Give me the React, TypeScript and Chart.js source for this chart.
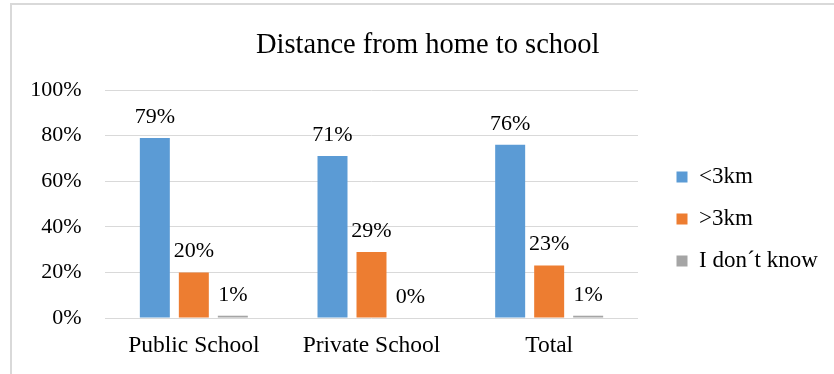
import { useEffect, useRef } from "react";
import { Chart, registerables } from "chart.js";

Chart.register(...registerables);

// Chart data
const categories = ["Public School", "Private School", "Total"];
const seriesNames = ["<3km", ">3km", "I don´t know"];
const under3km = [79, 71, 76];
const over3km = [20, 29, 23];
const dontKnow = [1, 0, 1];
const yMax = 100;
const yStep = 20;
const seriesColors = ["#5B9BD5", "#ED7D31", "#A5A5A5"];

const SERIF = '"Liberation Serif", "Times New Roman", serif';

// Light grey frame around the chart, open towards the right and bottom edges
const framePlugin = {
  id: "frame",
  beforeDraw(chart: any) {
    const ctx = chart.ctx;
    ctx.save();
    ctx.fillStyle = "#ffffff";
    ctx.fillRect(0, 0, chart.width, chart.height);
    ctx.strokeStyle = "#D9D9D9";
    ctx.lineWidth = 2;
    ctx.strokeRect(11, 4, chart.width + 40, chart.height + 40);
    ctx.restore();
  },
};

// Percentage written above every bar
const valueLabelsPlugin = {
  id: "valueLabels",
  afterDatasetsDraw(chart: any) {
    const ctx = chart.ctx;
    ctx.save();
    ctx.font = `22px ${SERIF}`;
    ctx.fillStyle = "#000000";
    ctx.textAlign = "center";
    ctx.textBaseline = "middle";
    chart.data.datasets.forEach((ds: any, i: number) => {
      const meta = chart.getDatasetMeta(i);
      meta.data.forEach((bar: any, j: number) => {
        ctx.fillText(`${ds.data[j]}%`, bar.x, bar.y - 21);
      });
    });
    ctx.restore();
  },
};

export default function App() {
  const canvasRef = useRef<HTMLCanvasElement | null>(null);

  useEffect(() => {
    const canvas = canvasRef.current;
    if (!canvas) return;
    const seriesValues = [under3km, over3km, dontKnow];
    const chart = new Chart(canvas, {
      type: "bar",
      data: {
        labels: categories,
        datasets: seriesNames.map((name, i) => ({
          label: name,
          data: seriesValues[i],
          backgroundColor: seriesColors[i],
          borderWidth: 0,
          categoryPercentage: 0.6585,
          barPercentage: 0.769,
        })),
      },
      options: {
        responsive: false,
        animation: false,
        devicePixelRatio: 1,
        layout: {
          padding: { top: 10, left: 30, right: 8.5, bottom: 0.8 },
        },
        plugins: {
          title: {
            display: true,
            text: "Distance from home to school",
            color: "#000000",
            font: { family: SERIF, size: 28.5, weight: "normal" },
            padding: { top: 18, bottom: 27.8 },
          },
          legend: {
            display: true,
            position: "right",
            align: "start",
            fullSize: false,
            maxWidth: 168,
            title: {
              display: true,
              text: " ",
              font: { size: 10 },
              padding: { top: 44.5, bottom: 0 },
            },
            labels: {
              color: "#000000",
              font: { family: SERIF, size: 23 },
              boxWidth: 11,
              boxHeight: 11,
              padding: 19,
            },
          },
          tooltip: { enabled: false },
        },
        scales: {
          x: {
            grid: { display: false, drawTicks: false },
            border: { display: false },
            ticks: {
              color: "#000000",
              font: { family: SERIF, size: 23.5 },
              padding: 13.5,
            },
          },
          y: {
            min: 0,
            max: yMax,
            grid: { color: "#D9D9D9", lineWidth: 1, drawTicks: false },
            border: { display: false },
            ticks: {
              stepSize: yStep,
              color: "#000000",
              font: { family: SERIF, size: 22 },
              padding: 23.3,
              callback: (v: any) => `${v}%`,
            },
            afterFit: (scale: any) => {
              scale.width = 75;
            },
          },
          // empty spacer between the plot and the legend
          spacer: {
            type: "linear",
            position: "right",
            display: true,
            grid: { display: false },
            border: { display: false },
            ticks: { display: false },
            afterFit: (scale: any) => {
              scale.width = 19.5;
            },
          },
        },
      },
      plugins: [framePlugin, valueLabelsPlugin],
    } as any);
    return () => chart.destroy();
  }, []);

  return (
    <div style={{ position: "fixed", left: 0, top: 0, width: 834, height: 374, background: "#fff" }}>
      <canvas ref={canvasRef} width={834} height={374} style={{ display: "block" }} />
    </div>
  );
}
